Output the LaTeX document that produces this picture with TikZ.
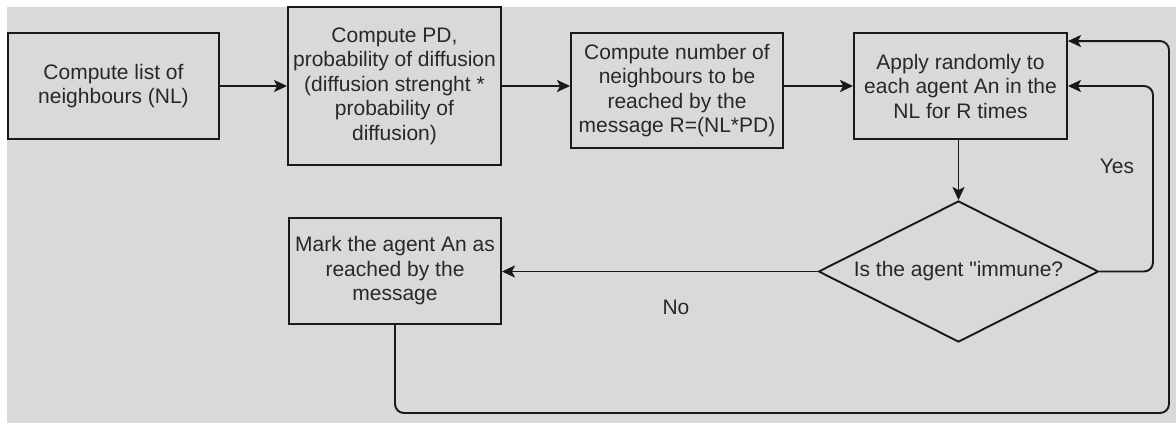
\documentclass[tikz,border=0pt]{standalone}
\usepackage{fontspec}
\setmainfont{Liberation Sans}[Ligatures=TeXOff]
\usetikzlibrary{shapes.geometric,arrows.meta}
\definecolor{bggray}{RGB}{217,217,217}
\definecolor{txtgray}{RGB}{40,40,40}
\definecolor{linegray}{RGB}{25,25,25}
\begin{document}
\begin{tikzpicture}[x=1pt,y=-1pt,
  lbl/.style={font=\fontsize{21}{24.5}\selectfont, text=txtgray, align=center},
  stepbox/.style={lbl, draw=linegray, line width=1.9pt, fill=bggray, inner sep=0pt, rectangle},
  decision/.style={lbl, draw=linegray, line width=1.9pt, fill=bggray, inner sep=0pt, diamond, aspect=2},
  arr/.style={draw=linegray, line width=1.9pt, -{Stealth[length=13pt,width=12pt,inset=3pt]}},
  loop/.style={arr, rounded corners=9pt}
]
\useasboundingbox (0,0) rectangle (1176,423);
\fill[white] (0,0) rectangle (1176,423);
\fill[bggray] (7,7) rectangle (1176,423);

\node[stepbox, minimum width=211pt, minimum height=106pt] (b1) at (113.5,86)
  {Compute list of\\neighbours (NL)};
\node[stepbox, minimum width=213pt, minimum height=158pt] (b2) at (394.5,86)
  {Compute PD,\\probability of diffusion\\(diffusion strenght *\\probability of\\diffusion)};
\node[stepbox, minimum width=212pt, minimum height=115pt] (b3) at (677,90.5)
  {Compute number of\\neighbours to be\\reached by the\\message R=(NL*PD)};
\node[stepbox, minimum width=213pt, minimum height=106pt] (b4) at (960.5,86)
  {Apply randomly to\\each agent An in the\\NL for R times};
\node[decision, minimum width=280pt, minimum height=141pt] (dia) at (958.5,271.5)
  {Is the agent "immune?};
\node[stepbox, minimum width=212pt, minimum height=106pt] (mark) at (395,271)
  {Mark the agent An as\\reached by the\\message};

\node[lbl] (yes) at (1117,166) {Yes};
\node[lbl] (no) at (676,307) {No};

\coordinate (yesx) at (1153,271.5);
\coordinate (br) at (1169,413);
\coordinate (t4) at ([yshift=-9pt]b4.north east);

\draw[arr] (b1.east) -- (b1.east -| b2.west);
\draw[arr] (b2.east) -- (b2.east -| b3.west);
\draw[arr] (b3.east |- b4.east) -- (b4.west);
\draw[arr] (b4.south -| dia.north) -- (dia.north);
\draw[arr] (dia.west) -- (dia.west -| mark.east);
\draw[loop] (dia.east) -- (yesx) |- (b4.east);
\draw[loop] (mark.south) |- (br) |- (t4);
\end{tikzpicture}
\end{document}
